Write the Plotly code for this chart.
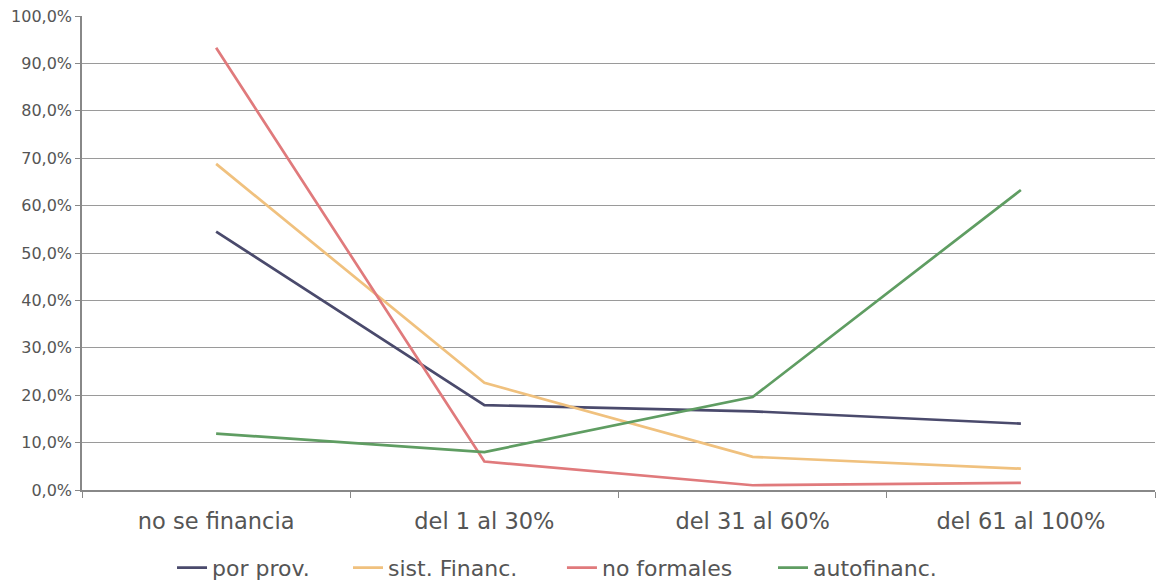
import plotly.graph_objects as go

# Categories and series (share of firms, %)
categorias = ["no se financia", "del 1 al 30%", "del 31 al 60%", "del 61 al 100%"]
por_prov = [54.5, 17.9, 16.6, 14.0]
sist_financ = [68.8, 22.6, 7.0, 4.5]
no_formales = [93.3, 6.0, 1.0, 1.5]
autofinanc = [11.9, 8.0, 19.6, 63.3]

y_ticks = [0, 10, 20, 30, 40, 50, 60, 70, 80, 90, 100]
y_ticktext = ["0,0%", "10,0%", "20,0%", "30,0%", "40,0%", "50,0%",
              "60,0%", "70,0%", "80,0%", "90,0%", "100,0%"]

series = [
    ("por prov.", por_prov, "#4a4a6c"),
    ("sist. Financ.", sist_financ, "#f0c17e"),
    ("no formales", no_formales, "#e07a7c"),
    ("autofinanc.", autofinanc, "#5f9d62"),
]

# each entry gets its own legend box so the spacing between entries can be set
legend_x = [0.0839, 0.2479, 0.4473, 0.6440]
legend_ids = ["legend", "legend2", "legend3", "legend4"]

fig = go.Figure()
for (name, values, color), lid in zip(series, legend_ids):
    fig.add_trace(go.Scatter(
        x=categorias, y=values, name=name, mode="lines",
        line=dict(color=color, width=2.7), legend=lid,
    ))

legend_style = dict(
    orientation="h", xanchor="left", yref="container", y=0.026,
    yanchor="middle", font=dict(size=22, color="#555555"),
    bgcolor="rgba(0,0,0,0)",
)

fig.update_layout(
    width=1156, height=583,
    margin=dict(l=82, r=1, t=16, b=93),
    paper_bgcolor="white", plot_bgcolor="white",
    font=dict(family="DejaVu Sans", color="#555555"),
    showlegend=True,
    **{lid: dict(x=lx, **legend_style) for lid, lx in zip(legend_ids, legend_x)},
)
fig.update_xaxes(
    type="category", tickson="boundaries",
    ticks="outside", ticklen=6, tickcolor="#888888",
    showline=True, linecolor="#888888", linewidth=1.5,
    showgrid=False, tickfont=dict(size=22.5, color="#555555"),
    ticklabelstandoff=10,
    range=[-0.5, 3.5],
)
fig.update_yaxes(
    range=[0, 100], tickvals=y_ticks, ticktext=y_ticktext,
    ticks="outside", ticklen=5, tickcolor="#888888",
    showline=True, linecolor="#888888", linewidth=1.5,
    showgrid=True, gridcolor="#9a9a9a", gridwidth=1.2,
    zeroline=False, tickfont=dict(size=16, color="#555555"),
)

fig.write_html("out.html")
